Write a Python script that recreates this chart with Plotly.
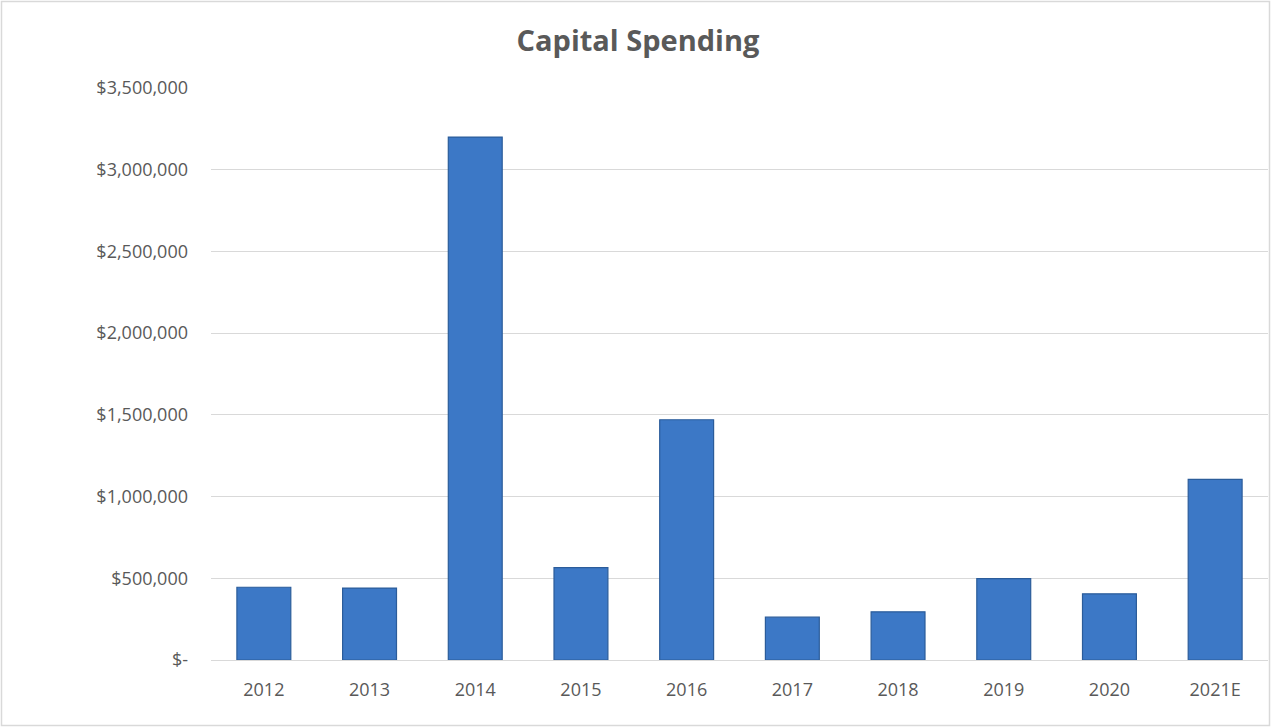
import plotly.graph_objects as go

years = ["2012", "2013", "2014", "2015", "2016", "2017", "2018", "2019", "2020", "2021E"]
spending = [445000, 440000, 3200000, 565000, 1470000, 262000, 295000, 498000, 405000, 1105000]
tick_vals = [0, 500000, 1000000, 1500000, 2000000, 2500000, 3000000, 3500000]
tick_text = ["$-", "$500,000", "$1,000,000", "$1,500,000", "$2,000,000",
             "$2,500,000", "$3,000,000", "$3,500,000"]

W, H = 1274, 727
ML, MR, MT, MB = 211, 6, 88, 67
PW, PH = W - ML - MR, H - MT - MB

FONT = "Open Sans"
GRAY = "#595959"

fig = go.Figure()
fig.add_trace(go.Bar(
    x=years, y=spending,
    marker=dict(color="#3C78C6", line=dict(color="#2B5C9A", width=1.2)),
    hoverinfo="x+y",
))

fig.update_layout(
    width=W, height=H,
    margin=dict(l=ML, r=MR, t=MT, b=MB, pad=0),
    paper_bgcolor="white", plot_bgcolor="white",
    bargap=0.49,
    showlegend=False,
    title=dict(text="<b>Capital Spending</b>", xref="container", x=638 / W, xanchor="center",
               y=1 - 41 / H, yanchor="middle", yref="container",
               font=dict(family=FONT, size=29, color=GRAY)),
    font=dict(family=FONT, color=GRAY, size=18),
)

fig.update_yaxes(
    range=[0, 3500000], tickvals=tick_vals, ticktext=tick_text,
    showgrid=True, gridcolor="#D9D9D9", gridwidth=1,
    zeroline=False, showline=False, ticks="",
    ticklabelstandoff=22,
    tickfont=dict(family=FONT, size=18, color=GRAY),
)
fig.update_xaxes(
    showline=True, linecolor="#D9D9D9", linewidth=1,
    ticks="", ticklabelstandoff=13,
    tickfont=dict(family=FONT, size=18, color=GRAY),
)

# outer chart border
fig.add_shape(type="rect", xref="paper", yref="paper",
              x0=(1.5 - ML) / PW, x1=(W - 4.5 - ML) / PW,
              y0=-(MB - 1.5) / PH, y1=1 + (MT - 1.5) / PH,
              line=dict(color="#D9D9D9", width=1.5), fillcolor="rgba(0,0,0,0)",
              layer="below")

fig.write_html("out.html")
